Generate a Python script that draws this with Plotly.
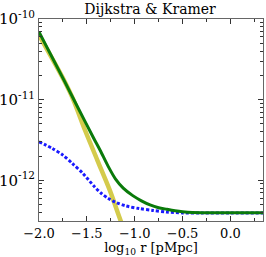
import plotly.graph_objects as go

# log10 r [pMpc]
x_green = [-2.0, -1.73, -1.61, -1.43, -1.36, -1.28, -1.20, -1.12, -1.02, -0.93, -0.84, -0.75, -0.665, -0.58, -0.50, -0.40, -0.20, 0.0, 0.34]
y_green = [6.9e-11, 1.66e-11, 8.7e-12, 3.35e-12, 2.34e-12, 1.51e-12, 1.035e-12, 8.0e-13, 6.45e-13, 5.56e-13, 4.95e-13, 4.57e-13, 4.37e-13, 4.19e-13, 4.07e-13, 3.98e-13, 3.96e-13, 3.96e-13, 3.96e-13]

x_yellow = [-2.0, -1.74, -1.64, -1.52, -1.39, -1.26, -1.14, -1.10]
y_yellow = [6.3e-11, 1.75e-11, 9.9e-12, 4.2e-12, 1.77e-12, 7.5e-13, 3.0e-13, 2.3e-13]

x_blue = [-2.0, -1.86, -1.75, -1.65, -1.54, -1.42, -1.35, -1.28, -1.21, -1.09, -0.95, -0.81, -0.67, -0.50, -0.30, 0.0, 0.34]
y_blue = [3.0e-12, 2.48e-12, 2.05e-12, 1.61e-12, 1.21e-12, 8.3e-13, 6.9e-13, 6.0e-13, 5.4e-13, 4.8e-13, 4.45e-13, 4.23e-13, 4.04e-13, 3.94e-13, 3.92e-13, 3.92e-13, 3.92e-13]

xtick_vals = [-2.0, -1.5, -1.0, -0.5, 0.0]
xtick_text = ["\u22122.0", "\u22121.5", "\u22121.0", "\u22120.5", "0.0"]
ytick_vals = [1e-12, 1e-11, 1e-10]
ytick_text = ["10<sup>-12</sup>", "10<sup>-11</sup>", "10<sup>-10</sup>"]
yminor_vals = [m * 10.0 ** e for e in (-13, -12, -11) for m in range(2, 10)]

FONT = "DejaVu Serif"

fig = go.Figure()
fig.add_trace(go.Scatter(x=x_yellow, y=y_yellow, mode="lines", line=dict(color="#d4cb4c", width=4.5, shape="spline", smoothing=0.8), showlegend=False))
fig.add_trace(go.Scatter(x=x_blue, y=y_blue, mode="lines", line=dict(color="#1a1aff", width=3, dash="3px,2px", shape="spline", smoothing=0.8), showlegend=False))
fig.add_trace(go.Scatter(x=x_green, y=y_green, mode="lines", line=dict(color="#0a7a0a", width=3, shape="spline", smoothing=0.8), showlegend=False))

axis_common = dict(
    showgrid=False, zeroline=False, showline=True, linecolor="#666", linewidth=1,
    mirror="ticks", ticks="inside", ticklen=5, tickwidth=1, tickcolor="#333",
)

fig.update_layout(
    width=266, height=257,
    margin=dict(l=39, r=3, t=19, b=36),
    paper_bgcolor="white", plot_bgcolor="white",
    title=dict(text="Dijkstra & Kramer", x=0.564, xanchor="center", y=0.965, yanchor="middle",
               font=dict(family=FONT, size=14, color="black")),
    xaxis=dict(**axis_common, range=[-2.0, 0.34], tickvals=xtick_vals, ticktext=xtick_text,
               tickfont=dict(family=FONT, size=13, color="black"),
               minor=dict(ticks="inside", ticklen=3, dtick=0.25, tick0=0, tickcolor="#333", showgrid=False),
               automargin=False,
               title=dict(text="log<sub>10</sub> r [pMpc]", font=dict(family=FONT, size=13, color="black"), standoff=0)),
    yaxis=dict(**axis_common, type="log", range=[-12.505, -10.0], tickvals=ytick_vals, ticktext=ytick_text,
               tickfont=dict(family=FONT, size=15, color="black"), automargin=False,
               minor=dict(ticks="inside", ticklen=3, tickvals=yminor_vals, tickcolor="#333", showgrid=False)),
)

fig.write_html("out.html", config={"displayModeBar": False}, post_script="document.body.style.margin='0';")
